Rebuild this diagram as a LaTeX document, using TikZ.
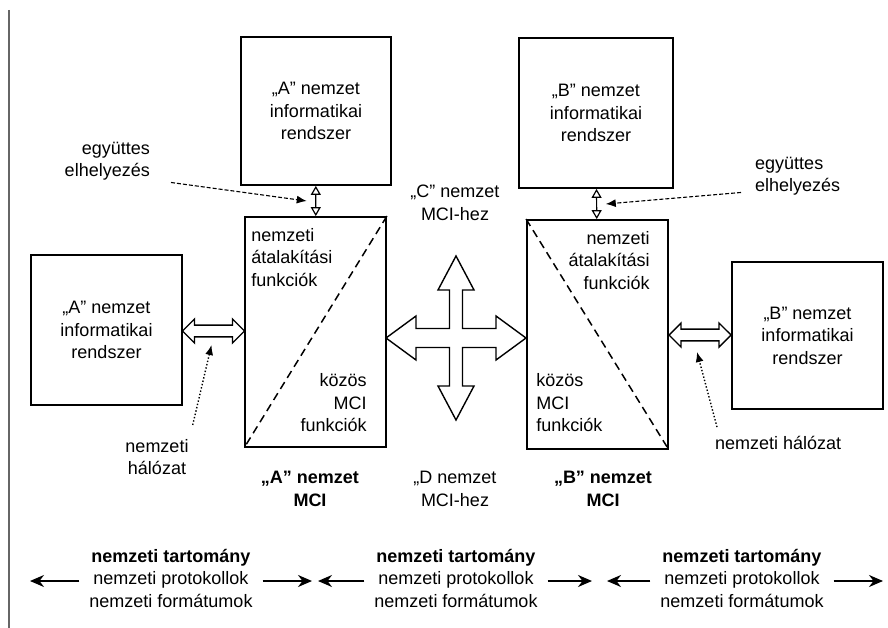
\documentclass[tikz,border=0pt]{standalone}
\usepackage{fontspec}
\setmainfont{Liberation Sans}
\usetikzlibrary{arrows.meta,shapes.arrows,calc}

\tikzset{
  box/.style={draw, line width=1.8pt, inner sep=0pt, align=center},
  linkarrow/.style={double arrow, draw, line width=1.4pt, minimum width=24pt,
    double arrow head extend=6pt, double arrow tip angle=90, inner xsep=0pt, inner ysep=5pt},
  updown/.style={{Triangle[open,length=9pt,width=10pt]}-{Triangle[open,length=9pt,width=10pt]},
    line width=1.2pt},
  pointer/.style={dash pattern=on 4pt off 2pt, -{Latex[length=10pt,width=8pt]}, line width=1.1pt},
  netpointer/.style={dotted, -{Latex[length=10pt,width=8pt]}, line width=1.4pt},
  diag/.style={dash pattern=on 8pt off 5pt, line width=1.5pt},
  domarrow/.style={-{Stealth[length=14pt,width=12pt]}, line width=1.8pt},
  lbl/.style={align=center, inner sep=2pt},
}

\begin{document}
\begin{tikzpicture}[x=1pt, y=-1pt, font=\fontsize{18}{22.5}\selectfont]
  \useasboundingbox (0,0) rectangle (888,628);
  \draw[line width=1.2pt, black!60] (9,10) -- (9,628);

  % "A" side
  \node[box, minimum width=150pt, minimum height=148pt] (infoA) at (316,111)
    {„A” nemzet\\informatikai\\rendszer};
  \node[box, minimum width=141pt, minimum height=230pt] (mciA) at (315.5,332) {};
  \node[box, minimum width=151pt, minimum height=150pt] (infoAl) at (106.5,330)
    {„A” nemzet\\informatikai\\rendszer};
  \draw[diag] (mciA.north east) -- (mciA.south west);
  \node[anchor=north west, align=left, inner sep=2pt] (trA) at ([shift={(5pt,-10pt)}]mciA.north west)
    {nemzeti\\átalakítási\\funkciók};
  \node[anchor=south east, align=right, inner sep=2pt] (koA) at ([shift={(-18pt,14pt)}]mciA.south east)
    {közös\\MCI\\funkciók};

  % "B" side
  \node[box, minimum width=154pt, minimum height=150pt] (infoB) at (596,113)
    {„B” nemzet\\informatikai\\rendszer};
  \node[box, minimum width=141pt, minimum height=229pt] (mciB) at (597.5,334.5) {};
  \node[box, minimum width=151pt, minimum height=147pt] (infoBr) at (807.5,335.5)
    {„B” nemzet\\informatikai\\rendszer};
  \draw[diag] (mciB.north west) -- (mciB.south east);
  \node[anchor=north east, align=right, inner sep=2pt] (trB) at ([shift={(-17pt,-10pt)}]mciB.north east)
    {nemzeti\\átalakítási\\funkciók};
  \node[anchor=south west, align=left, inner sep=2pt] (koB) at ([shift={(8pt,16pt)}]mciB.south west)
    {közös\\MCI\\funkciók};

  % links between the boxes
  \draw[updown] (infoA) -- (mciA);
  \draw[updown] (infoB) -- (mciB);
  \coordinate (jA) at ($(infoA.south)!0.5!(mciA.north)$);
  \coordinate (jB) at ($(infoB.south)!0.5!(mciB.north)$);
  \node[linkarrow, minimum height=62pt] (netA) at ($(infoAl.east)!0.5!(mciA.west)$) {};
  \node[linkarrow, minimum height=62pt] (netB) at ($(mciB.east)!0.5!(infoBr.west)$) {};

  % cross to "C" and "D"
  \coordinate (cross) at (456,338);
  \draw[line width=1.4pt, shift={(cross)}]
    (0,-82) -- (18,-48) -- (6.5,-48) -- (6.5,-9.5) -- (40,-9.5) -- (40,-22) -- (70,0)
    -- (40,22) -- (40,9.5) -- (6.5,9.5) -- (6.5,48) -- (18,48) -- (0,82)
    -- (-18,48) -- (-6.5,48) -- (-6.5,9.5) -- (-40,9.5) -- (-40,22) -- (-70,0)
    -- (-40,-22) -- (-40,-9.5) -- (-6.5,-9.5) -- (-6.5,-48) -- (-18,-48) -- cycle;

  % labels
  \node[lbl] (toC) at (455,203) {„C” nemzet\\MCI-hez};
  \node[lbl] (toD) at (455,489) {„D nemzet\\MCI-hez};
  \node[lbl, font=\fontsize{18}{22.5}\selectfont\bfseries] (nameA) at (310,489) {„A” nemzet\\MCI};
  \node[lbl, font=\fontsize{18}{22.5}\selectfont\bfseries] (nameB) at (603,489) {„B” nemzet\\MCI};

  \node[anchor=east, align=right, inner sep=2pt] (egyA) at (152,161) {együttes\\elhelyezés};
  \node[anchor=west, align=left, inner sep=2pt] (egyB) at (753,176) {együttes\\elhelyezés};
  \draw[pointer] ([xshift=19pt]egyA.south east) -- ([xshift=-9pt]jA);
  \draw[pointer] ([xshift=-12pt,yshift=5pt]egyB.south west) -- ([xshift=9pt]jB);

  \node[lbl] (hA) at (157,457) {nemzeti\\hálózat};
  \node[anchor=west, inner sep=2pt] (hB) at (713,443) {nemzeti hálózat};
  \draw[netpointer] ([shift={(2pt,12pt)}]hA.north east) -- ([shift={(-2pt,-14pt)}]netA.center);
  \draw[netpointer] ([shift={(4pt,7pt)}]hB.north west) -- ([shift={(-3pt,-17pt)}]netB.center);

  % domains
  \node[lbl, inner xsep=10pt] (dom1) at (171,578)
    {{\bfseries nemzeti tartomány}\\nemzeti protokollok\\nemzeti formátumok};
  \node[lbl, inner xsep=10pt] (dom2) at (456,578)
    {{\bfseries nemzeti tartomány}\\nemzeti protokollok\\nemzeti formátumok};
  \node[lbl, inner xsep=10pt] (dom3) at (742,578)
    {{\bfseries nemzeti tartomány}\\nemzeti protokollok\\nemzeti formátumok};
  \coordinate (l1) at (30,581);
  \coordinate (r1) at (312,581);
  \coordinate (l2) at (318,581);
  \coordinate (r2) at (592,581);
  \coordinate (l3) at (607,581);
  \coordinate (r3) at (883,581);
  \draw[domarrow] (dom1.west |- l1) -- (l1);
  \draw[domarrow] (dom1.east |- r1) -- (r1);
  \draw[domarrow] (dom2.west |- l2) -- (l2);
  \draw[domarrow] (dom2.east |- r2) -- (r2);
  \draw[domarrow] (dom3.west |- l3) -- (l3);
  \draw[domarrow] (dom3.east |- r3) -- (r3);
\end{tikzpicture}
\end{document}
